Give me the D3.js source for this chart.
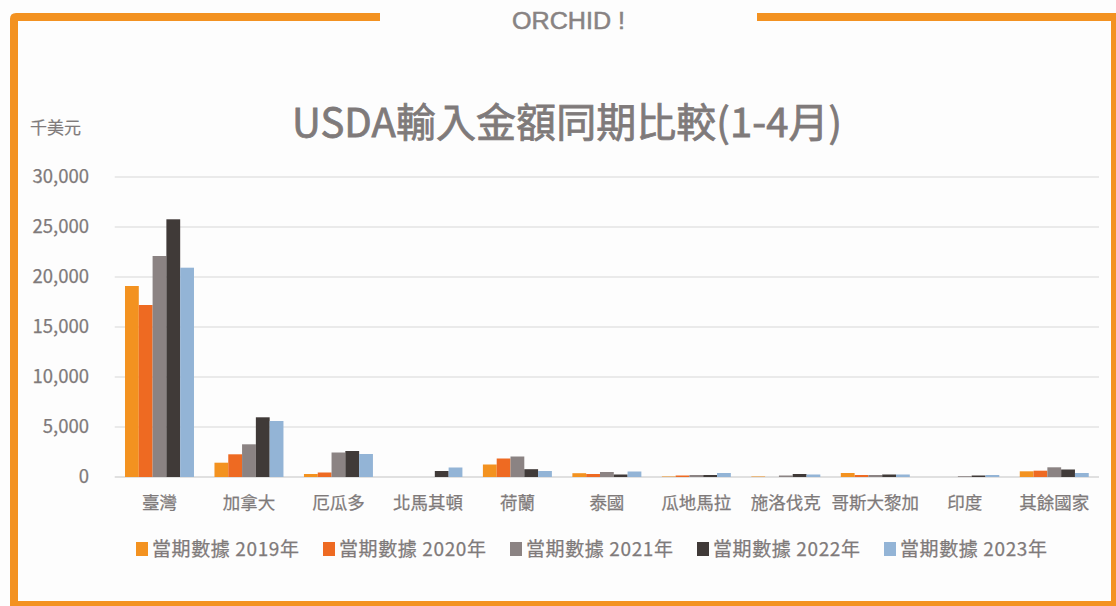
<!DOCTYPE html>
<html>
<head>
<meta charset="utf-8">
<script src="https://cdn.jsdelivr.net/npm/d3@7"></script>
<style>
  body { margin: 0; background: #fdfdfd; }
  svg { display: block; font-family: "Noto Sans CJK TC", "Noto Sans", sans-serif; }
</style>
</head>
<body>
<script>
// categories and yearly values (thousand USD)
let countries = ['臺灣', '加拿大', '厄瓜多', '北馬其頓', '荷蘭', '泰國', '瓜地馬拉', '施洛伐克', '哥斯大黎加', '印度', '其餘國家'];
let years = ['2019', '2020', '2021', '2022', '2023'];
let legendLabels = ['當期數據 2019年', '當期數據 2020年', '當期數據 2021年', '當期數據 2022年', '當期數據 2023年'];
let values2019 = [19100, 1430, 300, 0, 1250, 380, 50, 50, 400, 0, 570];
let values2020 = [17200, 2270, 450, 0, 1850, 300, 150, 0, 200, 0, 630];
let values2021 = [22100, 3270, 2450, 0, 2050, 500, 200, 150, 200, 80, 970];
let values2022 = [25770, 5970, 2600, 600, 780, 250, 200, 300, 250, 150, 750];
let values2023 = [20930, 5600, 2300, 950, 600, 550, 400, 250, 250, 200, 400];
let yTicks = [0, 5000, 10000, 15000, 20000, 25000, 30000];
let colors = ['#f39220', '#ee6a22', '#8b8383', '#403a38', '#93b4d6'];

let series = [values2019, values2020, values2021, values2022, values2023];
let data = countries.map((c, i) => ({
    country: c,
    values: years.map((y, j) => ({ year: y, value: series[j][i] }))
}));

let width = 1116, height = 606;
let margin = { top: 177, bottom: 129, left: 114.75, right: 17 };
let orange = '#f39221';
let textColor = '#7f7a7a';

let svg = d3.select('body')
    .append('svg')
    .attr('width', width)
    .attr('height', height)
    .style('background', '#fdfdfd');

// Orange frame
svg.append('path')
    .attr('d', 'M380,13 H16 Q10,13 10,19 V606 H18 V21 H380 Z')
    .attr('fill', orange);
svg.append('rect').attr('x', 757).attr('y', 13).attr('width', 359).attr('height', 8).attr('fill', orange);
svg.append('rect').attr('x', 1111).attr('y', 13).attr('width', 5).attr('height', 593).attr('fill', orange);
svg.append('rect').attr('x', 10).attr('y', 601).attr('width', 1106).attr('height', 5).attr('fill', orange);

svg.append('text')
    .attr('x', 512)
    .attr('y', 29)
    .attr('textLength', 113)
    .attr('lengthAdjust', 'spacingAndGlyphs')
    .style('font-family', '"Liberation Sans", Arial, sans-serif')
    .style('font-size', '23px')
    .style('fill', '#888383')
    .style('stroke', '#888383')
    .style('stroke-width', 0.5)
    .text('ORCHID !');

// Title
svg.append('text')
    .attr('x', 567)
    .attr('y', 137)
    .attr('text-anchor', 'middle')
    .attr('textLength', 550)
    .style('font-size', '40px')
    .style('fill', textColor)
    .style('stroke', textColor)
    .style('stroke-width', 0.8)
    .text('USDA輸入金額同期比較(1-4月)');

svg.append('text')
    .attr('x', 30)
    .attr('y', 134)
    .style('font-size', '17px')
    .style('fill', textColor)
    .style('stroke', textColor)
    .style('stroke-width', 0.2)
    .text('千美元');

// Scales
let yScale = d3.scaleLinear()
    .domain([0, 30000])
    .range([height - margin.bottom, margin.top]);

let xScale = d3.scaleBand()
    .domain(countries)
    .range([margin.left, width - margin.right])
    .paddingInner(0.229)
    .paddingOuter(0.1145);

let xInner = d3.scaleBand()
    .domain(years)
    .range([0, xScale.bandwidth()]);

let colorScale = d3.scaleOrdinal().domain(years).range(colors);

// Gridlines
svg.append('g')
    .selectAll('line')
    .data(yTicks)
    .enter()
    .append('line')
    .attr('x1', margin.left)
    .attr('x2', width - margin.right)
    .attr('y1', d => yScale(d))
    .attr('y2', d => yScale(d))
    .attr('stroke', d => d === 0 ? '#d6d6d6' : '#e3e3e3')
    .attr('stroke-width', 1.5);

// Y axis labels
let yAxis = svg.append('g')
    .attr('transform', 'translate(89,0)')
    .call(d3.axisLeft(yScale).tickValues(yTicks).tickFormat(d3.format(',')).tickSize(0).tickPadding(0));
yAxis.select('.domain').remove();
yAxis.selectAll('text')
    .style('font-family', '"Noto Sans CJK TC", "Noto Sans", sans-serif')
    .style('font-size', '18.5px')
    .style('fill', textColor)
    .style('stroke', textColor)
    .style('stroke-width', 0.25);

// X axis labels
let xAxis = svg.append('g')
    .attr('transform', `translate(0,${height - margin.bottom})`)
    .call(d3.axisBottom(xScale).tickSize(0).tickPadding(20));
xAxis.select('.domain').remove();
xAxis.selectAll('text')
    .style('font-family', '"Noto Sans CJK TC", "Noto Sans", sans-serif')
    .style('font-size', '17.5px')
    .style('fill', textColor)
    .style('stroke', textColor)
    .style('stroke-width', 0.25);

// Bars
let groups = svg.append('g')
    .selectAll('g')
    .data(data)
    .enter()
    .append('g')
    .attr('transform', d => `translate(${xScale(d.country)},0)`);

groups.selectAll('rect')
    .data(d => d.values)
    .enter()
    .append('rect')
    .attr('x', d => xInner(d.year))
    .attr('y', d => yScale(d.value))
    .attr('width', xInner.bandwidth())
    .attr('height', d => yScale(0) - yScale(d.value))
    .attr('fill', d => colorScale(d.year));

// Legend
let legend = svg.append('g')
    .selectAll('g')
    .data(years)
    .enter()
    .append('g')
    .attr('transform', (d, i) => `translate(${136 + i * 187},542)`);

legend.append('rect')
    .attr('width', 12)
    .attr('height', 14)
    .attr('fill', d => colorScale(d));

legend.append('text')
    .attr('x', 16)
    .attr('y', 14)
    .attr('textLength', 147)
    .style('font-size', '19px')
    .style('fill', textColor)
    .style('stroke', textColor)
    .style('stroke-width', 0.25)
    .text((d, i) => legendLabels[i]);
</script>
</body>
</html>
